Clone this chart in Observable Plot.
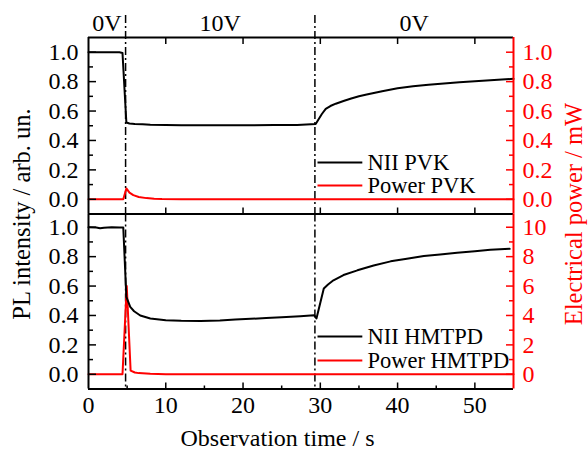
<!DOCTYPE html>
<html><head><meta charset="utf-8">
<script src="https://cdn.jsdelivr.net/npm/d3@7"></script>
<script src="https://cdn.jsdelivr.net/npm/@observablehq/plot@0.6"></script>
<style>
html,body{margin:0;padding:0;background:#fff;}
#chart{position:relative;width:588px;height:451px;font-family:"Liberation Serif",serif;background:#fff;}
#chart svg{position:absolute;left:0;overflow:visible;background:transparent;}
</style></head><body><div id="chart"></div>
<script>
// ---- data ----
const phases = [
  {label: "0V", start: 0, end: 4.8},
  {label: "10V", start: 4.8, end: 29.3},
  {label: "0V", start: 29.3, end: 55}
];
const phaseBounds = [4.8, 29.3];

const pvkTime = [0, 1, 2, 3, 4, 4.4, 4.9, 5.3, 6, 7, 8, 10, 12, 15, 18, 21, 24, 27, 29.4, 30.2, 30.7, 31.3, 32, 33, 34, 35, 36, 38, 40, 42, 44, 46, 48, 50, 52, 54, 55];
const pvkNII  = [1.0, 1.0, 1.0, 1.0, 1.0, 0.995, 0.522, 0.515, 0.512, 0.51, 0.507, 0.505, 0.504, 0.503, 0.503, 0.504, 0.505, 0.505, 0.512, 0.58, 0.615, 0.634, 0.65, 0.668, 0.685, 0.70, 0.712, 0.735, 0.755, 0.768, 0.779, 0.788, 0.796, 0.802, 0.81, 0.816, 0.819];

const pvkPowerTime = [0, 4.5, 4.9, 5.3, 5.8, 6.5, 7.5, 8.5, 9.5, 12, 55];
const pvkPower     = [0, 0, 0.074, 0.045, 0.028, 0.016, 0.008, 0.004, 0.002, 0, 0];

const hmtpdTime = [0, 1, 1.5, 2, 3, 4, 4.5, 4.9, 5.4, 5.9, 6.7, 8, 10, 12, 14.5, 17, 19, 21, 23, 25, 27.4, 29.2, 29.5, 30.45, 31, 31.7, 33, 34.8, 36.9, 39.1, 41.2, 43.4, 45.5, 47.7, 50, 52, 54.5];
const hmtpdNII  = [1.0, 0.998, 0.993, 0.997, 1.0, 0.998, 0.998, 0.526, 0.458, 0.429, 0.40, 0.379, 0.368, 0.364, 0.363, 0.366, 0.372, 0.377, 0.383, 0.388, 0.395, 0.402, 0.38, 0.583, 0.61, 0.639, 0.675, 0.707, 0.74, 0.768, 0.786, 0.804, 0.815, 0.826, 0.837, 0.847, 0.853];

const hmtpdPowerTime = [0, 4.4, 4.95, 5.45, 6, 6.5, 8, 10, 55];
const hmtpdPower     = [0, 0, 6.0, 0.25, 0.12, 0.08, 0.03, 0, 0];

const plTicks = [0, 0.2, 0.4, 0.6, 0.8, 1.0];
const plMinor = [0.1, 0.3, 0.5, 0.7, 0.9];
const powerTicksTop = [0, 0.2, 0.4, 0.6, 0.8, 1.0];
const powerMinorTop = [0.1, 0.3, 0.5, 0.7, 0.9];
const powerTicksBottom = [0, 2, 4, 6, 8, 10];
const powerMinorBottom = [1, 3, 5, 7, 9];
const powerMaxBottom = 10;
const timeTicks = [0, 10, 20, 30, 40, 50];
const timeMinor = [5, 15, 25, 35, 45];

const legendTop = [{label: "NII PVK", color: "black"}, {label: "Power PVK", color: "red"}];
const legendBottom = [{label: "NII HMTPD", color: "black"}, {label: "Power HMTPD", color: "red"}];

// ---- drawing ----
const FONT = "Liberation Serif";
const TICK_FS = 24;
const fmt1 = d3.format(".1f");
const inner = timeTicks.filter(t => t > 0);
const dashDot = "8,3,2,3";

// ticks only (drawn inward from a frame edge)
function ticksY(values, edge, size, color = "black") {
  return Plot.axisY(values, {anchor: edge === "left" ? "right" : "left", frameAnchor: edge, tickSize: size,
    strokeWidth: 1.5, stroke: color, fill: "none", label: null});
}
function ticksX(values, edge, size) {
  return Plot.axisX(values, {anchor: edge === "top" ? "bottom" : "top", frameAnchor: edge, tickSize: size,
    strokeWidth: 1.5, stroke: "black", fill: "none", label: null});
}
function labelsY(values, side, pad, fmt, color = "black") {
  return Plot.axisY(values, {anchor: side, tickSize: 0, tickPadding: pad, tickFormat: fmt, fill: color, fontSize: TICK_FS, label: null});
}

function frameEdges(yDom) {
  return [
    Plot.ruleX([0], {stroke: "black", strokeWidth: 2}),
    Plot.ruleY([yDom[1]], {stroke: "black", strokeWidth: 2}),
    Plot.ruleY([yDom[0]], {stroke: "black", strokeWidth: 2}),
    Plot.ruleX([55], {stroke: "red", strokeWidth: 2})
  ];
}
function legendMarks(items, yTop, step) {
  return [
    Plot.ruleY(items, {y: (d, i) => yTop - i * step, x1: () => 29.7, x2: () => 35.5, stroke: d => d.color, strokeWidth: 2}),
    Plot.text(items, {y: (d, i) => yTop - i * step, x: () => 36.1, text: "label", textAnchor: "start", lineAnchor: "middle", fontSize: 22.5, fill: "black"})
  ];
}

const yTop = [-0.1, 1.1];
const topPlot = Plot.plot({
  width: 588, height: 214, marginTop: 37, marginBottom: 0.5, marginLeft: 88, marginRight: 75,
  x: {domain: [0, 55], axis: null},
  y: {domain: yTop, axis: null},
  style: {fontFamily: FONT, fontSize: "23px", background: "transparent", overflow: "visible", color: "black"},
  marks: [
    Plot.ruleX(phaseBounds, {stroke: "black", strokeWidth: 1.5, strokeDasharray: dashDot, insetTop: -22}),
    Plot.text(phases, {x: d => (d.start + d.end) / 2, text: "label", frameAnchor: "top", lineAnchor: "middle", dy: -14.5, fontSize: TICK_FS}),
    Plot.line(pvkPower, {x: pvkPowerTime, y: d => d, stroke: "red", strokeWidth: 2}),
    Plot.line(pvkNII, {x: pvkTime, y: d => d, stroke: "black", strokeWidth: 2}),
    ...legendMarks(legendTop, 0.25, 0.156),
    ticksY(plTicks, "left", 7),
    ticksY(plMinor, "left", 4),
    labelsY(plTicks, "left", 10, fmt1),
    ticksY(powerTicksTop, "right", 7, "red"),
    ticksY(powerMinorTop, "right", 4, "red"),
    labelsY(powerTicksTop, "right", 9, fmt1, "red"),
    ticksX(inner, "top", 7),
    ticksX(inner, "bottom", 7),
    ...frameEdges(yTop)
  ]
});

const yBot = [-0.1, 1.09];
const botPlot = Plot.plot({
  width: 588, height: 238, marginTop: 0.5, marginBottom: 62.5, marginLeft: 88, marginRight: 75,
  x: {domain: [0, 55], axis: null},
  y: {domain: yBot, axis: null},
  style: {fontFamily: FONT, fontSize: "23px", background: "transparent", overflow: "visible", color: "black"},
  marks: [
    Plot.ruleX(phaseBounds, {stroke: "black", strokeWidth: 1.5, strokeDasharray: dashDot}),
    Plot.line(hmtpdPower, {x: hmtpdPowerTime, y: d => d / powerMaxBottom, stroke: "red", strokeWidth: 2}),
    Plot.line(hmtpdNII, {x: hmtpdTime, y: d => d, stroke: "black", strokeWidth: 2}),
    ...legendMarks(legendBottom, 0.257, 0.163),
    ticksY(plTicks, "left", 7),
    ticksY(plMinor, "left", 4),
    labelsY(plTicks, "left", 10, fmt1),
    ticksY(powerTicksBottom.map(v => v / powerMaxBottom), "right", 7, "red"),
    ticksY(powerMinorBottom.map(v => v / powerMaxBottom), "right", 4, "red"),
    labelsY(powerTicksBottom.map(v => v / powerMaxBottom), "right", 9, d => String(Math.round(d * powerMaxBottom)), "red"),
    ticksX(inner, "bottom", 7),
    ticksX(timeMinor, "bottom", 4),
    Plot.axisX(timeTicks, {anchor: "bottom", tickSize: 0, tickPadding: 7, fontSize: TICK_FS, label: null}),
    Plot.text(["PL intensity / arb. un."], {text: d => d, frameAnchor: "top-left", textAnchor: "middle", lineAnchor: "middle", dx: -66, rotate: -90, fontSize: 24.5, fill: "black"}),
    Plot.text(["Electrical power / mW"], {text: d => d, frameAnchor: "top-right", textAnchor: "middle", lineAnchor: "middle", dx: 61, rotate: -90, fontSize: 24.5, fill: "red"}),
    Plot.text(["Observation time / s"], {text: d => d, frameAnchor: "bottom", textAnchor: "middle", lineAnchor: "middle", dx: -23.5, dy: 49, fontSize: 24, fill: "black"}),
    ...frameEdges(yBot)
  ]
});

const chart = document.getElementById("chart");
topPlot.style.top = "0px";
botPlot.style.top = "213px";
chart.appendChild(topPlot);
chart.appendChild(botPlot);
</script></body></html>
